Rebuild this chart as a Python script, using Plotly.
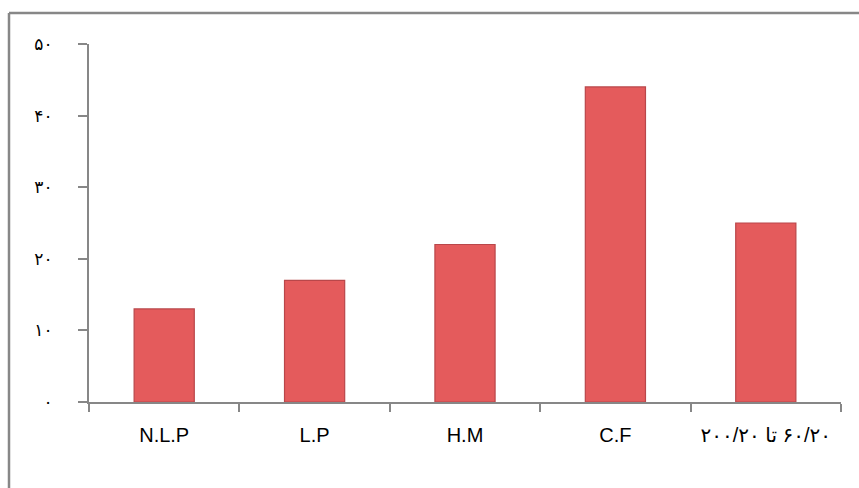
import plotly.graph_objects as go

categories = ["N.L.P", "L.P", "H.M", "C.F", "\u202b۶۰/۲۰ تا ۲۰۰/۲۰\u202c"]
values = [13, 17, 22, 44, 25]
y_tick_vals = [0, 10, 20, 30, 40, 50]
y_tick_text = ["۰", "۱۰", "۲۰", "۳۰", "۴۰", "۵۰"]

fig = go.Figure()
fig.add_trace(go.Bar(
    x=categories, y=values, width=0.4,
    marker=dict(color="#E45B5C", line=dict(color="#B9474A", width=1.2)),
    hoverinfo="skip",
))

fig.update_layout(
    width=859, height=488,
    margin=dict(l=89, r=18, t=44, b=86, autoexpand=False),
    plot_bgcolor="white", paper_bgcolor="white",
    showlegend=False,
    font=dict(family="Liberation Sans, DejaVu Sans, sans-serif", color="black"),
    xaxis=dict(
        type="category",
        showline=True, linecolor="#878787", linewidth=2,
        ticks="outside", tickson="boundaries", ticklen=8, tickwidth=2, tickcolor="#878787",
        tickfont=dict(size=20, family="Liberation Sans, DejaVu Sans, sans-serif"),
        ticklabelstandoff=14,
        showgrid=False, zeroline=False, automargin=False,
    ),
    yaxis=dict(
        range=[0, 50],
        tickvals=y_tick_vals, ticktext=y_tick_text,
        showline=True, linecolor="#878787", linewidth=2,
        ticks="outside", ticklen=9, tickwidth=2, tickcolor="#878787",
        tickfont=dict(size=17, family="DejaVu Sans, sans-serif"),
        ticklabelstandoff=22,
        showgrid=False, zeroline=False, automargin=False,
    ),
    shapes=[
        dict(type="line", xref="paper", yref="paper",
             x0=-80/752, x1=1.05, y0=1 + 31/358, y1=1 + 31/358,
             line=dict(color="#878787", width=2.5)),
        dict(type="line", xref="paper", yref="paper",
             x0=-80/752, x1=-80/752, y0=1 + 31/358, y1=-0.3,
             line=dict(color="#878787", width=2.5)),
    ],
)

fig.write_html("out.html", config={"displayModeBar": False},
               post_script="document.body.style.margin='0';")
